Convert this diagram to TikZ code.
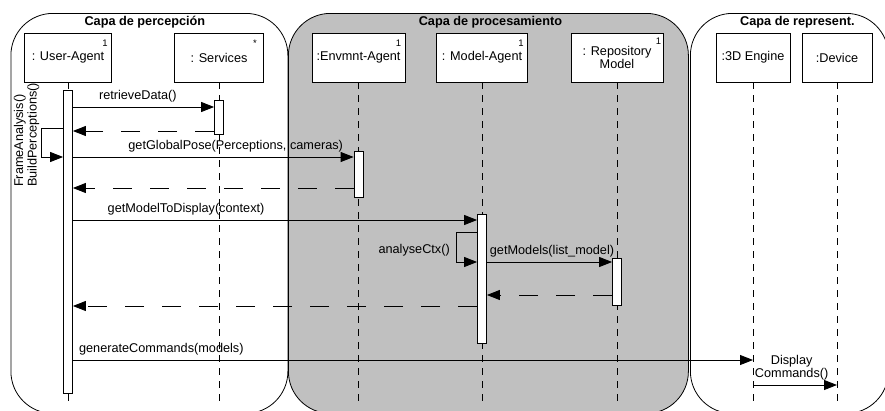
\documentclass[tikz,border=0pt]{standalone}
\usepackage{fontspec}
\setmainfont{Liberation Sans}
\usetikzlibrary{arrows.meta,positioning}
\definecolor{capagris}{RGB}{192,192,192}
\newcommand\letra{\fontsize{12.7}{13.5}\selectfont}
\tikzset{
  capa/.style={draw, line width=0.8pt, rounded corners=42pt, inner sep=0pt, anchor=north west},
  capatit/.style={font=\letra\bfseries, inner sep=1pt},
  obj/.style={draw, fill=white, line width=0.8pt, minimum height=49pt, inner sep=1pt, align=center},
  mult/.style={font=\fontsize{9.5}{10}\selectfont, inner sep=0pt, anchor=north east},
  vida/.style={dash pattern=on 7pt off 6pt, line width=0.9pt},
  activ/.style={draw, fill=white, line width=0.8pt, minimum width=9pt, inner sep=0pt, anchor=north},
  llamada/.style={-{Triangle[length=13pt,width=10pt]}, line width=0.9pt},
  retorno/.style={llamada, dash pattern=on 19pt off 18pt},
  msg/.style={above=3pt, inner sep=1pt}
}

\begin{document}
\begin{tikzpicture}[x=1pt, y=-1pt, font=\letra]
\useasboundingbox (0,0) rectangle (885,410);
\clip (0,0) rectangle (885,410);

\node[capa, fill=white, minimum width=277pt, minimum height=400pt] (percep) at (10.5,13) {};
\node[capa, fill=capagris, minimum width=400pt, minimum height=400pt] (proces) at (288,13) {};
\node[capa, fill=white, minimum width=198pt, minimum height=400pt] (repres) at (690,13) {};
\node[capatit, below=2pt of percep.north, xshift=-4.5pt] (tpercep) {Capa de percepción};
\node[capatit, below=2pt of proces.north, xshift=2pt] (tproces) {Capa de procesamiento};
\node[capatit, below=2pt of repres.north, xshift=8pt] (trepres) {Capa de represent.};

\node[obj, minimum width=87pt] (user) at (68,57.5) {: User-Agent};
\node[obj, minimum width=89pt] (serv) at (219,57.5) {: Services};
\node[obj, minimum width=93pt] (envm) at (358.5,57.5) {:Envmnt-Agent};
\node[obj, minimum width=91pt] (model) at (482,57.5) {: Model-Agent};
\node[obj, minimum width=92pt] (repo) at (617,57.5) {: Repository\\Model};
\node[obj, minimum width=74pt] (motor) at (753,57.5) {:3D Engine};
\node[obj, minimum width=70pt] (disp) at (837,57.5) {:Device};
\node[mult] (userm) at ([xshift=-4pt,yshift=-7pt]user.north east) {1};
\node[mult] (servm) at ([xshift=-7pt,yshift=-7pt]serv.north east) {*};
\node[mult] (envmm) at ([xshift=-4pt,yshift=-7pt]envm.north east) {1};
\node[mult] (modelm) at ([xshift=-4pt,yshift=-7pt]model.north east) {1};
\node[mult] (repom) at ([xshift=-2pt,yshift=-5pt]repo.north east) {1};

\coordinate (fin) at (0,402);
\foreach \o in {user,serv,envm,model,repo,motor,disp}
  \draw[vida] (\o.south) -- (\o.south |- fin);

\node[activ, minimum height=303pt] (userb) at (user.south |- 0,90) {};
\node[activ, minimum height=34pt] (servb) at (serv.south |- 0,100) {};
\node[activ, minimum height=46pt] (envmb) at (envm.south |- 0,151) {};
\node[activ, minimum height=129pt] (modelb) at (model.south |- 0,214) {};
\node[activ, minimum height=47pt] (repob) at (repo.south |- 0,258) {};

\draw[llamada] (userb.east |- 0,107) -- node[msg, pos=.46] (m1) {retrieveData()} (servb.west |- 0,107);
\draw[retorno] (servb.west |- 0,131) -- (userb.east |- 0,131);
\draw[llamada] (userb.west |- 0,128) -- ++(-22,0) |- (userb.west |- 0,157);
\node[rotate=90, anchor=west, align=left, inner sep=0pt] (frame) at (26.5,187) {FrameAnalysis()\\BuildPerceptions()};
\draw[llamada] (userb.east |- 0,157) -- node[msg, pos=.58] (m2) {getGlobalPose(Perceptions, cameras)} (envmb.west |- 0,157);
\draw[retorno] (envmb.west |- 0,188) -- (userb.east |- 0,188);
\draw[llamada] (userb.east |- 0,220) -- node[msg, pos=.28] (m3) {getModelToDisplay(context)} (modelb.west |- 0,220);
\draw[llamada] (modelb.west |- 0,232) -- ++(-21,0) |- (modelb.west |- 0,262);
\node[anchor=base east, inner sep=0pt] (analyse) at (450,253) {analyseCtx()};
\draw[llamada] (modelb.east |- 0,262) -- node[msg, pos=.52] (m4) {getModels(list\_model)} (repob.west |- 0,262);
\draw[retorno] (repob.west |- 0,295) -- (modelb.east |- 0,295);
\draw[retorno] (modelb.west |- 0,306) -- (userb.east |- 0,306);
\draw[llamada] (userb.east |- 0,360) -- node[msg, pos=.13] (m5) {generateCommands(models)} (motor.south |- 0,360);
\draw[llamada] (motor.south |- 0,385) -- node[msg, align=center, pos=.46] (m6) {Display\\Commands()} (disp.south |- 0,385);
\end{tikzpicture}
\end{document}
